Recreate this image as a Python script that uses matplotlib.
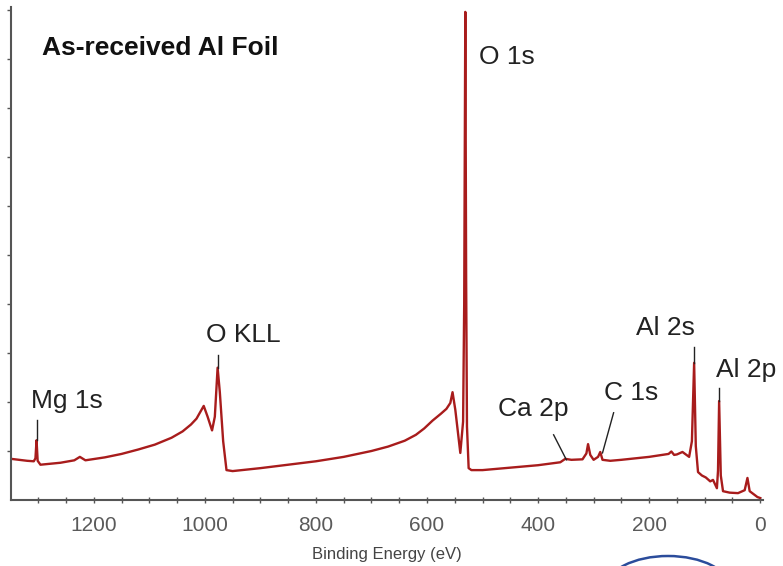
import matplotlib
matplotlib.use('Agg')
import matplotlib.pyplot as plt
from matplotlib.patches import Ellipse

# XPS survey spectrum, as-received Al foil
energy = [1349, 1320, 1308, 1305, 1303, 1301, 1296, 1260, 1235, 1225, 1215, 1180,
          1150, 1120, 1090, 1060, 1040, 1025, 1015, 1008, 1002, 995, 987, 982, 977,
          973, 967, 961, 950, 900, 850, 800, 750, 700, 670, 640, 620, 605, 590,
          575, 565, 558, 554, 549, 540, 535, 533, 531, 529.5, 528, 525, 520, 500,
          450, 400, 360, 351, 340, 320, 313, 310, 306, 300, 292, 288, 284, 270,
          250, 200, 165, 160, 155, 150, 140, 128, 123, 119, 116, 112, 105, 98, 90,
          85, 78, 76, 74, 71, 67, 55, 40, 28, 23, 19, 12, 5, 0]
intensity = [0.84, 0.80, 0.79, 0.85, 1.22, 0.80, 0.72, 0.76, 0.81, 0.88, 0.81, 0.87,
             0.94, 1.03, 1.13, 1.27, 1.40, 1.54, 1.66, 1.80, 1.92, 1.70, 1.42, 1.70, 2.70,
             2.20, 1.20, 0.61, 0.59, 0.65, 0.72, 0.79, 0.88, 1.00, 1.09, 1.21, 1.33, 1.46, 1.62,
             1.76, 1.86, 1.98, 2.20, 1.84, 0.96, 1.60, 4.0, 9.96, 4.5, 1.5, 0.65, 0.61, 0.61,
             0.66, 0.71, 0.77, 0.84, 0.82, 0.83, 0.95, 1.14, 0.92, 0.82, 0.88, 0.98, 0.82, 0.80,
             0.82, 0.88, 0.94, 0.99, 0.92, 0.93, 0.98, 0.88, 1.2, 2.80, 1.1, 0.57, 0.50, 0.46,
             0.38, 0.41, 0.24, 0.6, 2.02, 0.5, 0.18, 0.15, 0.14, 0.20, 0.45, 0.18, 0.12, 0.06, 0.04]

# peak labels: text, text x (eV), text baseline, leader start (x, y), leader end (x, y)
labels = ['Mg 1s', 'O KLL', 'Ca 2p', 'C 1s', 'Al 2s', 'Al 2p']
label_x = [1313, 998, 473, 282, 223, 79]
label_y = [1.88, 3.22, 1.71, 2.04, 3.37, 2.51]
lead_x0 = [1303, 977, 372, 264, 119, 74]
lead_y0 = [1.63, 2.96, 1.33, 1.78, 3.12, 2.29]
lead_x1 = [1303, 977, 349, 284, 119, 74]
lead_y1 = [1.22, 2.70, 0.82, 0.96, 2.80, 2.02]

xticks = [1200, 1000, 800, 600, 400, 200, 0]

fig = plt.figure(figsize=(7.83, 5.66), dpi=100)
ax = fig.add_axes([11 / 783, 66 / 566, 752 / 783, 493 / 566])

ax.plot(energy, intensity, color='#a81c1c', lw=1.7)

for i in range(len(labels)):
    ax.plot([lead_x0[i], lead_x1[i]], [lead_y0[i], lead_y1[i]], color='#222222', lw=1)
    ax.text(label_x[i], label_y[i], labels[i], fontsize=19, family='Liberation Sans',
            color='#222222', ha='left', va='baseline')

ax.text(507, 8.90, 'O 1s', fontsize=19, family='Liberation Sans', color='#222222',
        ha='left', va='baseline')
ax.text(1293, 9.08, 'As-received Al Foil', fontsize=19, fontweight='bold',
        family='Liberation Sans', color='#111111', ha='left', va='baseline')

ax.set_xlim(1349, -5)
ax.set_ylim(0, 10.06)
ax.set_xticks(xticks)
ax.set_xticks(range(1300, -1, -50), minor=True)
ax.set_xticklabels([str(t) for t in xticks], fontsize=15, color='#5a5a5a',
                   family='Liberation Sans')
ax.set_yticks(range(1, 11))
ax.set_yticklabels([])
ax.tick_params(axis='x', which='both', direction='inout', length=5, width=1,
               color='#555555', pad=9)
ax.tick_params(axis='y', direction='out', length=3, width=1, color='#555555')
ax.set_xlabel('Binding Energy (eV)', fontsize=12, color='#444444',
              family='Liberation Sans', labelpad=9)

for s in ['top', 'right']:
    ax.spines[s].set_visible(False)
for s in ['left', 'bottom']:
    ax.spines[s].set_color('#555555')
    ax.spines[s].set_linewidth(1.5)

# blue circle drawn on the original figure, cut by the bottom edge
ell = Ellipse((668 / 783, (566 - 588) / 566), 124 / 783, 64 / 566,
              transform=fig.transFigure, fill=False, edgecolor='#2b4c9b', lw=1.8)
fig.patches.append(ell)

fig.savefig('out.png', dpi=100)
